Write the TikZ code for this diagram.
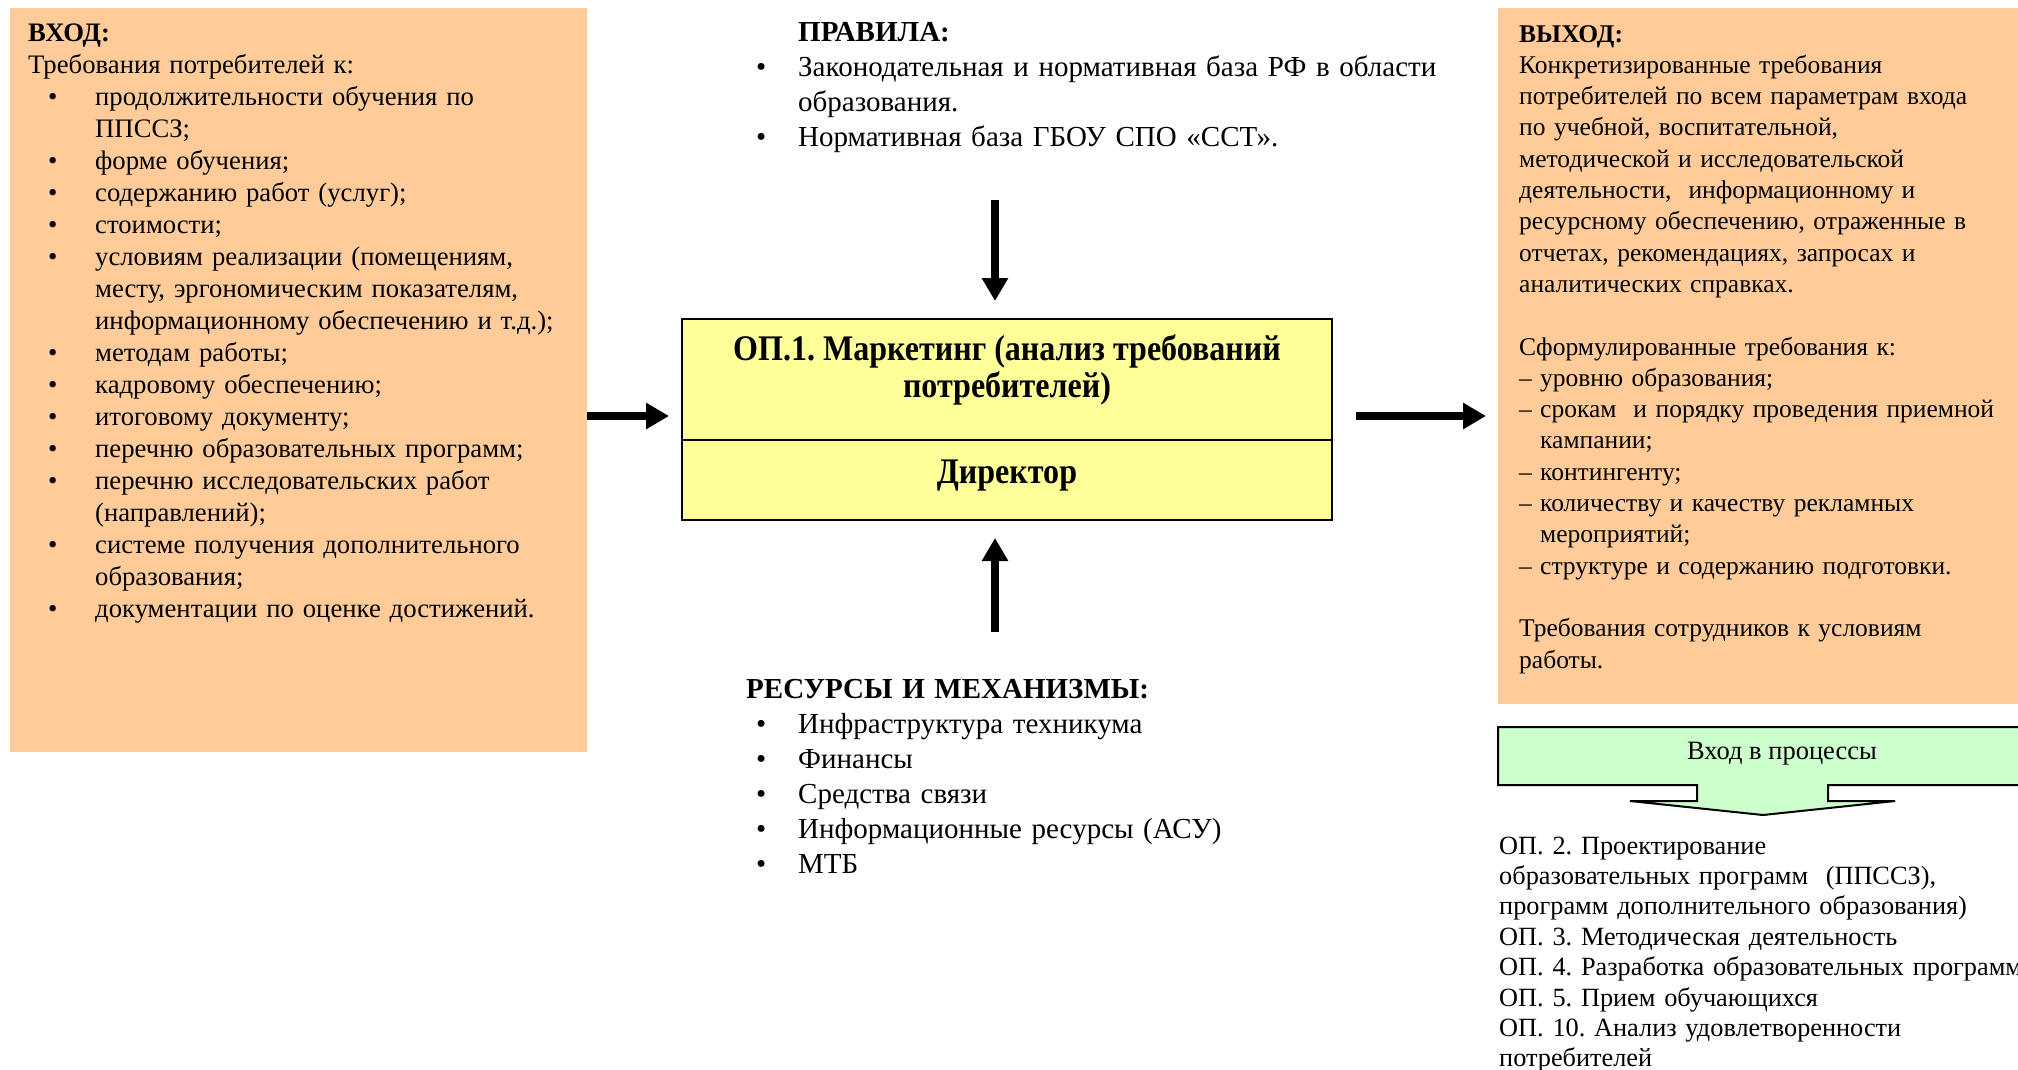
\documentclass[tikz,border=0pt]{standalone}
\usepackage{fontspec}
\setmainfont{Liberation Serif}
\newfontfamily\condfont[FakeStretch=0.89]{Liberation Serif}
\usetikzlibrary{arrows.meta}

\definecolor{peach}{HTML}{FFCC99}
\definecolor{lemon}{HTML}{FFFF99}
\definecolor{mint}{HTML}{CCFFCC}

\frenchspacing
% bullet set at a given indent, text following after a fixed gap
\newcommand\bulat[2]{\hspace*{#1}\makebox[#2][l]{\textbullet}}
% dash item with hanging text
\newcommand\dsh{\makebox[21pt][l]{–}}

\tikzset{
  panel/.style={fill=peach, draw=none, inner sep=0pt, anchor=north west},
  listtext/.style={anchor=base west, inner sep=0pt, text width=700pt, align=left},
  sidefont/.style={font=\fontsize{26.7}{32}\selectfont},
  midfont/.style={font=\fontsize{29}{35}\selectfont},
  boxfont/.style={font=\condfont\bfseries\fontsize{36}{37}\selectfont},
  bigarrow/.style={line width=8pt, -{Triangle[length=23pt,width=25pt]}},
  framed/.style={draw=black, line width=2pt},
}

\begin{document}
\begin{tikzpicture}[x=1pt, y=-1pt]
\useasboundingbox (0,0) rectangle (2018,1069);
\clip (0,0) rectangle (2018,1069);

% input and output panels
\node[panel, minimum width=577pt, minimum height=744pt] (inbox) at (10,8) {};
\node[panel, minimum width=530pt, minimum height=696pt] (outbox) at (1498,8) {};

% input requirements
\node[listtext, sidefont] (intext) at (28,41) {%
{\bfseries ВХОД:}\\
Требования потребителей к:\\
\bulat{20pt}{47pt}продолжительности обучения по\\
\hspace*{67pt}ППССЗ;\\
\bulat{20pt}{47pt}форме обучения;\\
\bulat{20pt}{47pt}содержанию работ (услуг);\\
\bulat{20pt}{47pt}стоимости;\\
\bulat{20pt}{47pt}условиям реализации (помещениям,\\
\hspace*{67pt}месту, эргономическим показателям,\\
\hspace*{67pt}информационному обеспечению и т.д.);\\
\bulat{20pt}{47pt}методам работы;\\
\bulat{20pt}{47pt}кадровому обеспечению;\\
\bulat{20pt}{47pt}итоговому документу;\\
\bulat{20pt}{47pt}перечню образовательных программ;\\
\bulat{20pt}{47pt}перечню исследовательских работ\\
\hspace*{67pt}(направлений);\\
\bulat{20pt}{47pt}системе получения дополнительного\\
\hspace*{67pt}образования;\\
\bulat{20pt}{47pt}документации по оценке достижений.};

% output
\node[listtext, font=\fontsize{25.5}{31.3}\selectfont] (outtext) at (1519,42) {%
{\bfseries ВЫХОД:}\\
Конкретизированные требования\\
потребителей по всем параметрам входа\\
по учебной, воспитательной,\\
методической и исследовательской\\
деятельности,\ \ информационному и\\
ресурсному обеспечению, отраженные в\\
отчетах, рекомендациях, запросах и\\
аналитических справках.\\
\mbox{}\\
Сформулированные требования к:\\
\dsh уровню образования;\\
\dsh срокам\ \ и порядку проведения приемной\\
\hspace*{21pt}кампании;\\
\dsh контингенту;\\
\dsh количеству и качеству рекламных\\
\hspace*{21pt}мероприятий;\\
\dsh структуре и содержанию подготовки.\\
\mbox{}\\
Требования сотрудников к условиям\\
работы.};

% rules
\node[listtext, midfont] (rules) at (754,41) {%
\hspace*{44pt}{\bfseries ПРАВИЛА:}\\
\bulat{2pt}{42pt}Законодательная и нормативная база РФ в области\\
\hspace*{44pt}образования.\\
\bulat{2pt}{42pt}Нормативная база ГБОУ СПО «ССТ».};

% resources
\node[listtext, midfont] (resources) at (746,698) {%
{\bfseries РЕСУРСЫ И МЕХАНИЗМЫ:}\\
\bulat{10pt}{42pt}Инфраструктура техникума\\
\bulat{10pt}{42pt}Финансы\\
\bulat{10pt}{42pt}Средства связи\\
\bulat{10pt}{42pt}Информационные ресурсы (АСУ)\\
\bulat{10pt}{42pt}МТБ};

% process box
\node[framed, fill=lemon, minimum width=650pt, minimum height=201pt, inner sep=0pt] (proc) at (1007,419.5) {};
\coordinate (divy) at (0,440);
\draw[line width=2pt] (proc.west |- divy) -- (proc.east |- divy);
\node[align=center, inner sep=0pt, boxfont] (title) at (1007,370) {ОП.1. Маркетинг (анализ требований\\потребителей)};
\node[inner sep=0pt, boxfont] (director) at (1007,476) {Директор};

% arrows
\coordinate (flowy) at (0,416);
\coordinate (rulesend) at (995,200);
\coordinate (resend) at (995,632);
\draw[bigarrow, shorten >=12pt] (inbox.east |- flowy) -- (proc.west |- flowy);
\draw[bigarrow, shorten <=23pt, shorten >=12pt] (proc.east |- flowy) -- (outbox.west |- flowy);
\draw[bigarrow, shorten >=17pt] (rulesend) -- (rulesend |- proc.north);
\draw[bigarrow, shorten >=17pt] (resend) -- (resend |- proc.south);

% callout pointing to the downstream processes
\draw[fill=mint, line width=2pt] (1498,727) -- (2040,727) -- (2040,785) -- (1828,785) -- (1828,801)
  -- (1895,801) -- (1763,815) -- (1630,801) -- (1697,801) -- (1697,785) -- (1498,785) -- cycle;
\node[inner sep=0pt, font=\fontsize{26.5}{30}\selectfont] (calloutlabel) at (1782,754) {Вход в процессы};

% downstream processes
\node[listtext, font=\fontsize{26.3}{30.4}\selectfont] (processes) at (1499,854) {%
ОП. 2. Проектирование\\
образовательных программ\ \ (ППССЗ),\\
программ дополнительного образования)\\
ОП. 3. Методическая деятельность\\
ОП. 4. Разработка образовательных программ\\
ОП. 5. Прием обучающихся\\
ОП. 10. Анализ удовлетворенности\\
потребителей};
\end{tikzpicture}
\end{document}
